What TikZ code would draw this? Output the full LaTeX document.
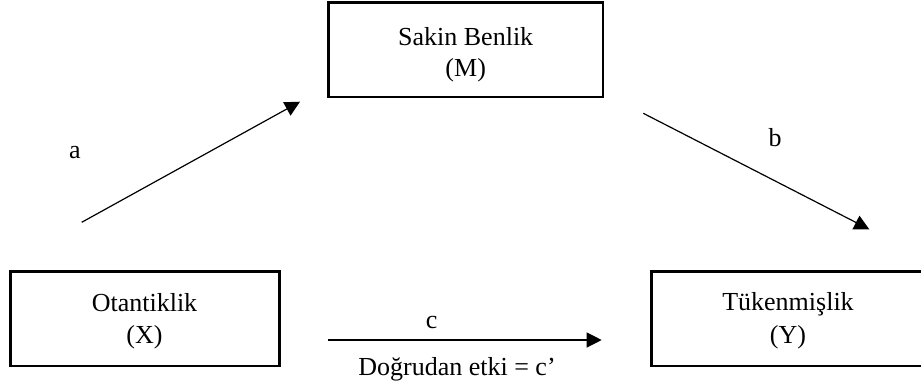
\documentclass[tikz,border=0pt]{standalone}
\usepackage{fontspec}
\setmainfont{Liberation Serif}
\usetikzlibrary{arrows.meta}
\tikzset{
  boxnode/.style={draw=black, line width=2.6pt, rectangle, inner sep=0pt},
  txt/.style={anchor=base, inner sep=0pt, font=\fontsize{26}{32}\selectfont},
  arr/.style={line width=1.2pt, -{Triangle[length=15pt,width=15pt]}}
}
\begin{document}
\begin{tikzpicture}[x=1pt,y=-1pt]
\useasboundingbox (0,0) rectangle (921,389);
% boxes
\node[boxnode, minimum width=274.7pt, minimum height=94.3pt] (M) at (465.7,49.9) {};
\node[boxnode, minimum width=268.6pt, minimum height=94.3pt] (X) at (145,318.9) {};
\node[boxnode, minimum width=273.3pt, minimum height=94.3pt] (Y) at (788.3,318.9) {};
% box texts
\node[txt] (M1) at (465.7,45) {Sakin Benlik};
\node[txt] (M2) at (465.7,76) {(M)};
\node[txt] (X1) at (144.5,311.7) {Otantiklik};
\node[txt] (X2) at (144.5,343.3) {(X)};
\node[txt] (Y1) at (788,310.7) {Tükenmişlik};
\node[txt] (Y2) at (788,343.3) {(Y)};
% connector end points
\coordinate (aS) at (81.7,222.3);
\coordinate (aE) at (300,101.7);
\coordinate (bS) at (643.3,113.3);
\coordinate (bE) at (869.3,229.3);
\coordinate (cS) at (328.3,340);
\coordinate (cE) at (601.7,340);
% connectors
\draw[arr] (aS) -- (aE);
\draw[arr] (bS) -- (bE);
\draw[arr] (cS) -- (cE);
% labels
\node[txt] (la) at (75,158.3) {a};
\node[txt] (lb) at (775,146.7) {b};
\node[txt] (lc) at (431.7,328.3) {c};
\node[txt] (ld) at (457,375) {Doğrudan etki = c’};
\end{tikzpicture}
\end{document}
